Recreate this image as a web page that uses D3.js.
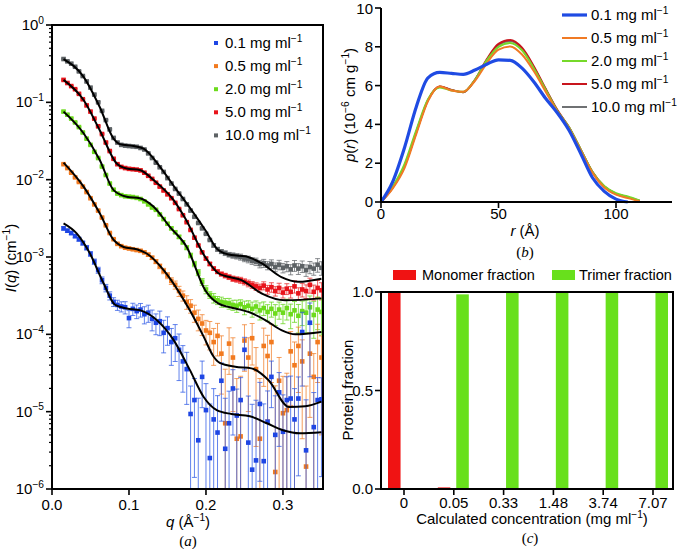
<!DOCTYPE html>
<html>
<head>
<meta charset="utf-8">
<script src="https://cdn.jsdelivr.net/npm/d3@7"></script>
<style>
  body { margin: 0; background: #fff; }
  svg { font-family: "Liberation Sans", Arial, sans-serif; }
</style>
</head>
<body>
<div id="chart"></div>
<script>
// ---------- panel (a): SAXS curves, log10 I(q) ----------
const q = [0.015,0.02,0.025,0.03,0.035,0.04,0.045,0.05,0.055,0.06,0.065,0.07,0.075,0.08,0.085,0.09,0.095,0.1,0.105,0.11,0.115,0.12,0.125,0.13,0.135,0.14,0.145,0.15,0.155,0.16,0.165,0.17,0.175,0.18,0.185,0.19,0.195,0.2,0.205,0.21,0.215,0.22,0.225,0.23,0.235,0.24,0.245,0.25,0.255,0.26,0.265,0.27,0.275,0.28,0.285,0.29,0.295,0.3,0.305,0.31,0.315,0.32,0.325,0.33,0.335,0.34,0.345,0.35];

const logI_01 = [-2.63,-2.66,-2.69,-2.73,-2.77,-2.82,-2.88,-2.96,-3.06,-3.17,-3.30,-3.40,-3.50,-3.58,-3.62,-3.64,-3.65,-3.79,-3.67,-3.70,-3.68,-3.74,-3.72,-3.80,-3.85,-3.83,-3.98,-3.92,-4.10,-4.05,-4.20,-4.35,-4.45,-5.03,-4.85,-5.37,-4.55,-4.98,-5.60,-5.10,-5.27,-4.60,-5.48,-5.15,-4.70,-5.05,-4.85,-4.20,-5.40,-5.75,-5.63,-4.90,-5.64,-5.13,-4.55,-5.30,-4.75,-5.26,-4.85,-4.83,-5.10,-4.83,-3.97,-5.50,-3.85,-5.20,-4.85,-4.84];
const logI_05 = [-1.80,-1.85,-1.91,-1.97,-2.03,-2.09,-2.16,-2.24,-2.32,-2.40,-2.49,-2.59,-2.69,-2.77,-2.83,-2.86,-2.88,-2.89,-2.90,-2.91,-2.92,-2.94,-2.97,-3.01,-3.06,-3.12,-3.18,-3.24,-3.31,-3.36,-3.44,-3.50,-3.58,-3.63,-3.72,-3.80,-3.86,-3.95,-3.98,-4.10,-4.02,-4.25,-5.15,-4.12,-4.30,-5.35,-5.32,-4.08,-4.30,-4.05,-4.45,-5.35,-4.15,-4.28,-4.10,-5.78,-4.60,-5.02,-4.98,-4.22,-4.40,-4.15,-4.35,-5.71,-4.25,-4.55,-4.10,-4.30];
const logI_20 = [-1.12,-1.16,-1.21,-1.26,-1.32,-1.39,-1.47,-1.55,-1.64,-1.72,-1.83,-1.94,-2.05,-2.13,-2.18,-2.20,-2.215,-2.22,-2.225,-2.235,-2.25,-2.28,-2.32,-2.36,-2.39,-2.45,-2.51,-2.57,-2.63,-2.68,-2.74,-2.81,-2.88,-2.98,-3.09,-3.20,-3.32,-3.42,-3.49,-3.53,-3.56,-3.58,-3.59,-3.60,-3.62,-3.63,-3.61,-3.65,-3.63,-3.67,-3.64,-3.69,-3.66,-3.71,-3.67,-3.73,-3.68,-3.72,-3.66,-3.74,-3.69,-3.76,-3.70,-3.72,-3.65,-3.75,-3.68,-3.71];
const logI_50 = [-0.71,-0.75,-0.79,-0.83,-0.89,-0.96,-1.04,-1.12,-1.21,-1.31,-1.41,-1.52,-1.63,-1.73,-1.80,-1.835,-1.85,-1.86,-1.865,-1.87,-1.88,-1.91,-1.95,-1.99,-2.04,-2.09,-2.14,-2.19,-2.24,-2.30,-2.38,-2.46,-2.55,-2.65,-2.75,-2.85,-2.94,-3.02,-3.09,-3.15,-3.19,-3.22,-3.24,-3.26,-3.28,-3.29,-3.30,-3.32,-3.34,-3.36,-3.38,-3.40,-3.37,-3.42,-3.39,-3.44,-3.40,-3.46,-3.41,-3.45,-3.38,-3.47,-3.42,-3.44,-3.36,-3.45,-3.40,-3.43];
const logI_100 = [-0.44,-0.47,-0.50,-0.54,-0.60,-0.66,-0.73,-0.81,-0.90,-1.00,-1.11,-1.23,-1.35,-1.46,-1.52,-1.55,-1.56,-1.565,-1.57,-1.575,-1.59,-1.61,-1.66,-1.72,-1.78,-1.84,-1.90,-1.98,-2.05,-2.12,-2.18,-2.25,-2.32,-2.40,-2.48,-2.56,-2.63,-2.70,-2.78,-2.85,-2.90,-2.93,-2.95,-2.97,-2.98,-2.99,-3.00,-3.02,-3.03,-3.05,-3.06,-3.09,-3.08,-3.11,-3.09,-3.13,-3.10,-3.14,-3.12,-3.16,-3.11,-3.15,-3.12,-3.17,-3.13,-3.15,-3.10,-3.14];

// relative error sigma / I for each point
const rel_01 = [0.05,0.05,0.05,0.05,0.06,0.06,0.07,0.07,0.08,0.09,0.1,0.11,0.12,0.13,0.15,0.15,0.18,0.25,0.18,0.2,0.2,0.25,0.25,0.3,0.3,0.35,0.45,0.4,0.5,0.5,0.6,0.6,0.65,1.3,0.9,2.5,0.6,1.2,4,1.5,2,0.7,3.5,1.6,0.75,1.2,0.95,0.45,3,6,5,0.9,4.5,1.5,0.6,2.2,0.8,2,1,0.95,1.5,0.9,0.8,3.5,0.8,1.8,0.95,0.9];
const rel_05 = [0.02,0.02,0.02,0.02,0.02,0.02,0.02,0.02,0.02,0.02,0.02,0.02,0.02,0.02,0.02,0.02,0.02,0.02,0.03,0.03,0.04,0.04,0.05,0.05,0.06,0.07,0.08,0.09,0.1,0.12,0.15,0.15,0.2,0.2,0.25,0.3,0.3,0.35,0.4,0.5,0.45,0.7,4,0.6,0.8,5,5,0.6,0.8,0.55,0.9,5,0.7,0.85,0.7,12,1.0,2,2,0.8,1.0,0.75,0.9,10,0.85,1.0,0.7,0.9];
const rel_20 = [0.02,0.02,0.02,0.02,0.02,0.02,0.02,0.02,0.02,0.02,0.02,0.02,0.02,0.02,0.02,0.02,0.02,0.02,0.02,0.02,0.02,0.02,0.02,0.02,0.02,0.02,0.03,0.03,0.04,0.04,0.05,0.05,0.06,0.07,0.08,0.09,0.1,0.12,0.1,0.14,0.12,0.15,0.13,0.16,0.15,0.18,0.14,0.2,0.16,0.22,0.18,0.25,0.2,0.24,0.22,0.3,0.25,0.28,0.3,0.35,0.3,0.4,0.35,0.45,0.4,0.5,0.45,0.5];
const rel_50 = [0.02,0.02,0.02,0.02,0.02,0.02,0.02,0.02,0.02,0.02,0.02,0.02,0.02,0.02,0.02,0.02,0.02,0.02,0.02,0.02,0.02,0.02,0.02,0.02,0.02,0.02,0.02,0.02,0.02,0.02,0.02,0.02,0.02,0.02,0.02,0.02,0.02,0.04,0.05,0.05,0.06,0.06,0.07,0.07,0.08,0.08,0.09,0.09,0.1,0.1,0.11,0.12,0.12,0.13,0.14,0.14,0.15,0.15,0.16,0.17,0.18,0.18,0.2,0.2,0.22,0.22,0.25,0.25];
const rel_100 = [0.02,0.02,0.02,0.02,0.02,0.02,0.02,0.02,0.02,0.02,0.02,0.02,0.02,0.02,0.02,0.02,0.02,0.02,0.02,0.02,0.02,0.02,0.02,0.02,0.02,0.02,0.02,0.02,0.02,0.02,0.02,0.02,0.02,0.02,0.02,0.02,0.02,0.02,0.02,0.05,0.06,0.06,0.07,0.07,0.08,0.08,0.09,0.09,0.1,0.1,0.11,0.11,0.12,0.12,0.13,0.13,0.14,0.14,0.15,0.15,0.16,0.16,0.17,0.17,0.18,0.18,0.2,0.2];

// model fits (black lines): [q, log10 I]
const fit_01 = [[0.015,-2.565],[0.032,-2.695],[0.049,-2.95],[0.067,-3.34],[0.082,-3.62],[0.097,-3.665],[0.114,-3.687],[0.136,-3.815],[0.158,-4.075],[0.179,-4.46],[0.197,-4.81],[0.214,-4.98],[0.233,-5.03],[0.257,-5.06],[0.279,-5.15],[0.300,-5.24],[0.322,-5.28],[0.350,-5.265]];
const fit_05 = [[0.015,-1.78],[0.041,-2.09],[0.062,-2.435],[0.080,-2.78],[0.093,-2.87],[0.110,-2.90],[0.123,-2.955],[0.145,-3.17],[0.166,-3.47],[0.179,-3.69],[0.197,-4.03],[0.210,-4.29],[0.218,-4.37],[0.238,-4.42],[0.259,-4.44],[0.281,-4.59],[0.308,-4.94],[0.329,-4.93],[0.350,-4.87]];
const fit_20 = [[0.015,-1.12],[0.041,-1.40],[0.062,-1.745],[0.080,-2.135],[0.097,-2.22],[0.114,-2.24],[0.132,-2.35],[0.153,-2.61],[0.175,-2.87],[0.199,-3.43],[0.216,-3.60],[0.238,-3.665],[0.255,-3.71],[0.277,-3.815],[0.298,-3.945],[0.316,-4.0],[0.350,-3.97]];
const fit_50 = [[0.015,-0.71],[0.041,-0.97],[0.062,-1.36],[0.084,-1.79],[0.097,-1.855],[0.114,-1.875],[0.132,-2.005],[0.158,-2.265],[0.173,-2.50],[0.199,-3.00],[0.216,-3.21],[0.229,-3.255],[0.246,-3.30],[0.272,-3.47],[0.303,-3.56],[0.350,-3.535]];
const fit_100 = [[0.015,-0.44],[0.041,-0.67],[0.062,-1.06],[0.080,-1.47],[0.088,-1.54],[0.106,-1.565],[0.119,-1.60],[0.140,-1.83],[0.162,-2.135],[0.173,-2.28],[0.199,-2.65],[0.216,-2.91],[0.233,-2.975],[0.251,-2.99],[0.272,-3.08],[0.298,-3.26],[0.320,-3.32],[0.350,-3.28]];

const concLabels = ["0.1", "0.5", "2.0", "5.0", "10.0"];

// ---------- panel (b): pair distance distribution ----------
const r = [0,5,10,15,20,25,30,35,40,45,50,55,60,65,70,75,80,85,90,95,100,105,110];
const pr_01  = [0,1.05,2.8,4.9,6.4,6.68,6.63,6.58,6.8,7.1,7.33,7.3,6.9,6.2,5.35,4.6,3.7,2.5,1.25,0.55,0.15,0,null];
const pr_05  = [0,0.7,1.75,3.5,5.2,5.95,5.75,5.68,6.25,7.15,7.85,8.02,7.6,6.75,5.7,4.65,3.8,2.65,1.5,0.75,0.38,0.2,0.04];
const pr_20  = [0,0.8,1.95,3.7,5.3,5.9,5.75,5.68,6.3,7.3,8.0,8.2,7.82,6.9,5.8,4.7,3.85,2.7,1.55,0.82,0.45,0.28,0.08];
const pr_50  = [0,0.75,1.85,3.6,5.25,5.95,5.78,5.66,6.3,7.35,8.15,8.35,7.95,7.0,5.85,4.75,3.85,2.7,1.55,0.8,0.42,0.25,0.06];
const pr_100 = [0,0.75,1.85,3.6,5.25,5.95,5.78,5.66,6.3,7.3,8.1,8.3,7.9,6.95,5.82,4.72,3.85,2.7,1.55,0.8,0.42,0.25,0.06];

// ---------- panel (c): oligomer fractions ----------
const calcConc = ["0", "0.05", "0.33", "1.48", "3.74", "7.07"];
const monomerFrac = [1.0, 0.008, 0, 0, 0, 0];
const trimerFrac = [0, 0.988, 1.0, 1.0, 1.0, 1.0];

// ---------- drawing ----------
const W = 677, H = 549;
const FS = 15;
const svg = d3.select("#chart").append("svg")
    .attr("width", W).attr("height", H);
svg.append("rect").attr("width", W).attr("height", H).attr("fill", "#fff");

// text with superscripts / italics: parts = [[text, "sup"|"i"|""], ...]
function richText(g, x, y, parts, opts = {}) {
    const size = opts.size || FS;
    const t = g.append("text")
        .attr("x", x).attr("y", y)
        .attr("font-size", size)
        .attr("text-anchor", opts.anchor || "start")
        .attr("fill", "#000");
    if (opts.family) t.attr("font-family", opts.family);
    if (opts.transform) t.attr("transform", opts.transform);
    const shift = size * 0.42;
    let up = false;
    parts.forEach(([s, kind]) => {
        const ts = t.append("tspan").text(s);
        if (kind === "sup") {
            ts.attr("font-size", size * 0.68);
            if (!up) { ts.attr("dy", -shift); up = true; }
        } else {
            if (up) { ts.attr("dy", shift); up = false; }
            if (kind === "i") ts.attr("font-style", "italic");
        }
    });
    return t;
}

const unitParts = lab => [[lab + " mg ml", ""], ["\u22121", "sup"]];

// ===== panel (a) =====
const ax = { l: 52, r: 323, t: 25, b: 489 };
const xA = d3.scaleLinear().domain([0, 0.352]).range([ax.l, ax.r]);
const yA = d3.scaleLog().domain([1e-6, 1]).range([ax.b, ax.t]);

const seriesA = [
    { lab: "10.0", logI: logI_100, rel: rel_100, fit: fit_100, color: "#5d6265", bar: "rgba(100,104,108,0.75)" },
    { lab: "5.0",  logI: logI_50,  rel: rel_50,  fit: fit_50,  color: "#e8141b", bar: "rgba(232,40,40,0.75)" },
    { lab: "2.0",  logI: logI_20,  rel: rel_20,  fit: fit_20,  color: "#6cdb1c", bar: "rgba(110,215,40,0.8)" },
    { lab: "0.5",  logI: logI_05,  rel: rel_05,  fit: fit_05,  color: "#f27a1f", bar: "rgba(240,125,40,0.75)" },
    { lab: "0.1",  logI: logI_01,  rel: rel_01,  fit: fit_01,  color: "#1e46e4", bar: "rgba(45,90,230,0.75)" }
];

svg.append("clipPath").attr("id", "clipA")
    .append("rect").attr("x", ax.l).attr("y", ax.t)
    .attr("width", ax.r - ax.l).attr("height", ax.b - ax.t);

const plotA = svg.append("g").attr("clip-path", "url(#clipA)");

seriesA.forEach(s => {
    const g = plotA.append("g");
    const pts = q.map((qq, i) => ({ q: qq, I: Math.pow(10, s.logI[i]), f: s.rel[i] }));
    pts.forEach(p => {
        const x = xA(p.q);
        const yUp = yA(p.I * (1 + p.f));
        const lowVal = p.I * (1 - p.f);
        const yLo = lowVal > 1e-7 ? yA(lowVal) : ax.b + 20;
        g.append("line").attr("x1", x).attr("x2", x).attr("y1", yUp).attr("y2", yLo)
            .attr("stroke", s.bar).attr("stroke-width", 1);
        g.append("line").attr("x1", x - 2.5).attr("x2", x + 2.5).attr("y1", yUp).attr("y2", yUp)
            .attr("stroke", s.bar).attr("stroke-width", 1);
        if (lowVal > 1e-7) {
            g.append("line").attr("x1", x - 2.5).attr("x2", x + 2.5).attr("y1", yLo).attr("y2", yLo)
                .attr("stroke", s.bar).attr("stroke-width", 1);
        }
    });
    g.selectAll("rect.pt").data(pts).enter().append("rect")
        .attr("x", d => xA(d.q) - 2.3).attr("y", d => yA(d.I) - 2.3)
        .attr("width", 4.6).attr("height", 4.6)
        .attr("fill", s.color);
});

const fitLine = d3.line()
    .x(d => xA(d[0]))
    .y(d => yA(Math.pow(10, d[1])))
    .curve(d3.curveMonotoneX);

seriesA.forEach(s => {
    plotA.append("path").datum(s.fit)
        .attr("d", fitLine)
        .attr("fill", "none").attr("stroke", "#000").attr("stroke-width", 2);
});

// frame
svg.append("rect").attr("x", ax.l).attr("y", ax.t)
    .attr("width", ax.r - ax.l).attr("height", ax.b - ax.t)
    .attr("fill", "none").attr("stroke", "#000").attr("stroke-width", 2);

// log y ticks
const majors = d3.range(-6, 1).map(k => Math.pow(10, k));
const minors = [];
for (let k = -6; k < 0; k++) for (let m = 2; m <= 9; m++) minors.push(m * Math.pow(10, k));
svg.append("g").selectAll("line").data(minors).enter().append("line")
    .attr("x1", ax.l - 3).attr("x2", ax.l)
    .attr("y1", d => yA(d)).attr("y2", d => yA(d))
    .attr("stroke", "#000").attr("stroke-width", 1.2);
svg.append("g").selectAll("line").data(majors).enter().append("line")
    .attr("x1", ax.l - 6).attr("x2", ax.l)
    .attr("y1", d => yA(d)).attr("y2", d => yA(d))
    .attr("stroke", "#000").attr("stroke-width", 1.6);
majors.forEach((v, i) => {
    const k = i - 6;
    richText(svg, ax.l - 8, yA(v) + 5, [["10", ""], [k === 0 ? "0" : "\u2212" + (-k), "sup"]], { anchor: "end" });
});

// x ticks
[0, 0.1, 0.2, 0.3].forEach(v => {
    svg.append("line").attr("x1", xA(v)).attr("x2", xA(v))
        .attr("y1", ax.b).attr("y2", ax.b + 6)
        .attr("stroke", "#000").attr("stroke-width", 1.6);
    svg.append("text").attr("x", xA(v)).attr("y", 510)
        .attr("text-anchor", "middle").attr("font-size", FS).text(d3.format(".1f")(v));
});

richText(svg, 188, 527, [["q", "i"], [" (\u00c5", ""], ["\u22121", "sup"], [")", ""]], { anchor: "middle" });
richText(svg, 188, 546, [["(", ""], ["a", "i"], [")", ""]], { anchor: "middle", family: "'Liberation Serif', 'Times New Roman', serif" });
richText(svg, 0, 0, [["I", "i"], ["(", ""], ["q", "i"], [") (cm", ""], ["\u22121", "sup"], [")", ""]],
    { anchor: "middle", transform: "translate(16,258) rotate(-90)" });

// legend (a)
const legA = svg.append("g");
["0.1", "0.5", "2.0", "5.0", "10.0"].forEach((lab, i) => {
    const s = seriesA.find(d => d.lab === lab);
    const y = 43 + i * 23.1;
    legA.append("rect").attr("x", 214).attr("y", y - 2).attr("width", 4).attr("height", 4).attr("fill", s.color);
    richText(legA, 225, y + 5, unitParts(concLabels[i]));
});

// ===== panel (b) =====
const bx = { l: 381, r: 672, t: 8, b: 202 };
const xB = d3.scaleLinear().domain([0, 100]).range([381, 616]);
const yB = d3.scaleLinear().domain([0, 10]).range([bx.b, bx.t]);

const seriesB = [
    { lab: "10.0", p: pr_100, color: "#6f7173", w: 2 },
    { lab: "5.0",  p: pr_50,  color: "#c8151d", w: 2 },
    { lab: "2.0",  p: pr_20,  color: "#76d92a", w: 2 },
    { lab: "0.5",  p: pr_05,  color: "#f07a24", w: 2 },
    { lab: "0.1",  p: pr_01,  color: "#1f4be3", w: 3.2 }
];

const prLine = d3.line()
    .defined(d => d[1] !== null)
    .x(d => xB(d[0]))
    .y(d => yB(d[1]))
    .curve(d3.curveMonotoneX);

seriesB.forEach(s => {
    svg.append("path").datum(r.map((rr, i) => [rr, s.p[i]]))
        .attr("d", prLine)
        .attr("fill", "none").attr("stroke", s.color)
        .attr("stroke-width", s.w).attr("stroke-linejoin", "round");
});

svg.append("line").attr("x1", bx.l).attr("x2", bx.l).attr("y1", bx.t).attr("y2", bx.b + 1)
    .attr("stroke", "#000").attr("stroke-width", 2);
svg.append("line").attr("x1", bx.l - 1).attr("x2", bx.r).attr("y1", bx.b).attr("y2", bx.b)
    .attr("stroke", "#000").attr("stroke-width", 2);
[0, 2, 4, 6, 8, 10].forEach(v => {
    svg.append("line").attr("x1", bx.l - 6).attr("x2", bx.l).attr("y1", yB(v)).attr("y2", yB(v))
        .attr("stroke", "#000").attr("stroke-width", 1.6);
    svg.append("text").attr("x", bx.l - 8).attr("y", Math.max(yB(v) + 5, 14))
        .attr("text-anchor", "end").attr("font-size", FS).text(v);
});
[0, 50, 100].forEach(v => {
    svg.append("line").attr("x1", xB(v)).attr("x2", xB(v)).attr("y1", bx.b).attr("y2", bx.b + 6)
        .attr("stroke", "#000").attr("stroke-width", 1.6);
    svg.append("text").attr("x", xB(v)).attr("y", 219)
        .attr("text-anchor", "middle").attr("font-size", FS).text(v);
});

richText(svg, 525, 236, [["r", "i"], [" (\u00c5)", ""]], { anchor: "middle" });
richText(svg, 525, 257, [["(", ""], ["b", "i"], [")", ""]], { anchor: "middle", family: "'Liberation Serif', 'Times New Roman', serif" });
richText(svg, 0, 0, [["p", "i"], ["(", ""], ["r", "i"], [") (10", ""], ["\u22126", "sup"], [" cm g", ""], ["\u22121", "sup"], [")", ""]],
    { anchor: "middle", transform: "translate(355,105) rotate(-90)" });

const legB = svg.append("g");
["0.1", "0.5", "2.0", "5.0", "10.0"].forEach((lab, i) => {
    const s = seriesB.find(d => d.lab === lab);
    const y = 15 + i * 23;
    legB.append("line").attr("x1", 562).attr("x2", 587).attr("y1", y).attr("y2", y)
        .attr("stroke", s.color).attr("stroke-width", s.w);
    richText(legB, 591, y + 5, unitParts(concLabels[i]));
});

// ===== panel (c) =====
const cx = { l: 381, r: 673, t: 292, b: 489 };
const xC = d3.scalePoint().domain(calcConc).range([404, 653]);
const xSub = d3.scaleBand().domain(["mono", "tri"]).range([-16, 15]).paddingInner(0.32);
const yC = d3.scaleLinear().domain([0, 1]).range([cx.b, cx.t]);

const barsC = [
    { key: "mono", vals: monomerFrac, color: "#f01313", lab: "Monomer fraction" },
    { key: "tri",  vals: trimerFrac,  color: "#68e01c", lab: "Trimer fraction" }
];
barsC.forEach(b => {
    svg.append("g").selectAll("rect").data(calcConc).enter().append("rect")
        .attr("x", c => xC(c) + xSub(b.key))
        .attr("width", xSub.bandwidth())
        .attr("y", (c, i) => yC(b.vals[i]))
        .attr("height", (c, i) => yC(0) - yC(b.vals[i]))
        .attr("fill", b.color);
});

svg.append("rect").attr("x", cx.l).attr("y", cx.t)
    .attr("width", cx.r - cx.l).attr("height", cx.b - cx.t)
    .attr("fill", "none").attr("stroke", "#000").attr("stroke-width", 2);
[0, 0.5, 1].forEach(v => {
    svg.append("line").attr("x1", cx.l - 6).attr("x2", cx.l).attr("y1", yC(v)).attr("y2", yC(v))
        .attr("stroke", "#000").attr("stroke-width", 1.6);
    svg.append("text").attr("x", cx.l - 8).attr("y", yC(v) + 5)
        .attr("text-anchor", "end").attr("font-size", FS).text(d3.format(".1f")(v));
});
calcConc.forEach(c => {
    svg.append("line").attr("x1", xC(c)).attr("x2", xC(c)).attr("y1", cx.b).attr("y2", cx.b + 6)
        .attr("stroke", "#000").attr("stroke-width", 1.6);
    svg.append("text").attr("x", xC(c)).attr("y", 508)
        .attr("text-anchor", "middle").attr("font-size", FS).text(c);
});

richText(svg, 532, 524, [["Calculated concentration (mg ml", ""], ["\u22121", "sup"], [")", ""]], { anchor: "middle" });
richText(svg, 530, 543, [["(", ""], ["c", "i"], [")", ""]], { anchor: "middle", family: "'Liberation Serif', 'Times New Roman', serif" });
svg.append("text").attr("transform", "translate(353,390) rotate(-90)")
    .attr("text-anchor", "middle").attr("font-size", FS).text("Protein fraction");

const legC = svg.append("g");
[[393, 422], [552, 579]].forEach(([sx, tx], i) => {
    legC.append("rect").attr("x", sx).attr("y", 270).attr("width", 23).attr("height", 10).attr("fill", barsC[i].color);
    legC.append("text").attr("x", tx).attr("y", 280).attr("font-size", 14.5).text(barsC[i].lab);
});
</script>
</body>
</html>
